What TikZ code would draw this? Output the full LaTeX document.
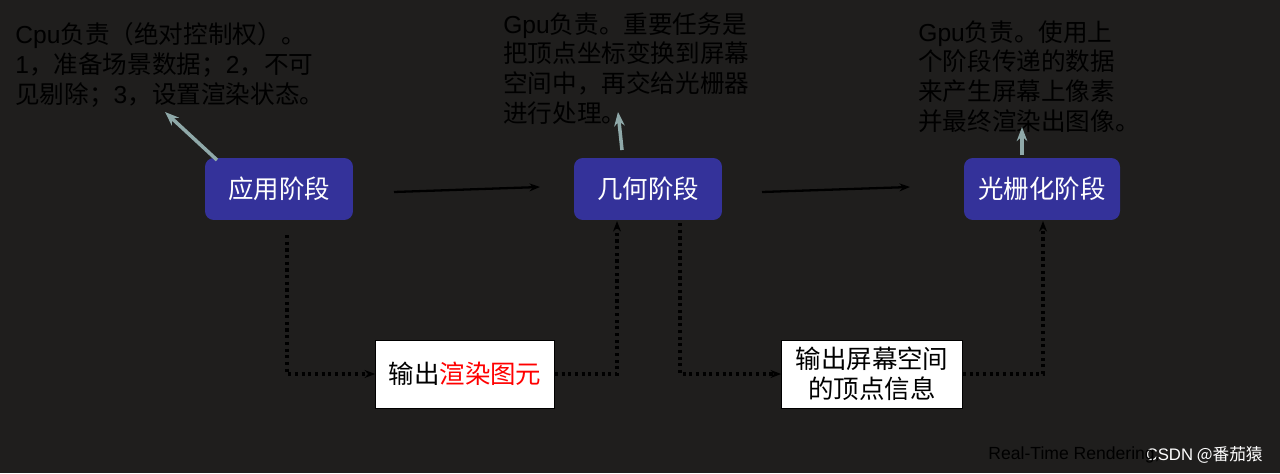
\documentclass[tikz,border=0pt]{standalone}
\usepackage{fontspec}
\setmainfont{Noto Sans CJK SC}
\newfontfamily\latn{Liberation Sans}
\usetikzlibrary{arrows.meta}
\definecolor{bg}{HTML}{1F1E1D}
\definecolor{boxc}{HTML}{34329A}
\definecolor{gar}{HTML}{8FA9A9}
\begin{document}
\begin{tikzpicture}[x=0.02cm,y=-0.02cm,
  stage/.style={fill=boxc,rounded corners=5pt,minimum width=2.96cm,minimum height=1.24cm,text=white,font=\fontsize{14.5pt}{17pt}\selectfont,inner sep=0pt},
  note/.style={anchor=north west,align=left,text=black,font=\fontsize{14pt}{17pt}\selectfont,inner sep=0pt},
  wbox/.style={fill=white,draw=black,minimum height=1.36cm,text=black,font=\fontsize{14.5pt}{17pt}\selectfont,inner sep=0pt},
  blk/.style={draw=black,line width=1.3pt,-{Stealth[length=6pt]}},
  dot/.style={draw=black,line width=1.8pt,dotted,-{Stealth[length=6pt]}},
  gray/.style={draw=gar,line width=2pt,-{Stealth[length=8pt,open]}}]
\useasboundingbox (0,0) rectangle (1280,473);
\fill[bg] (0,0) rectangle (1280,473);
\node[stage] (a) at (279,189) {应用阶段};
\node[stage] (b) at (648,189) {几何阶段};
\node[stage,minimum width=3.12cm] (c) at (1042,189) {光栅化阶段};
\node[wbox,minimum width=3.58cm] (o1) at (465,374) {输出\textcolor{red}{渲染图元}};
\node[wbox,minimum width=3.62cm,align=center] (o2) at (872,374) {输出屏幕空间\\的顶点信息};
\node[note] (t1) at (15,22) {{\latn Cpu}负责（绝对控制权）。\\{\latn 1}，准备场景数据；{\latn 2}，不可\\见剔除；{\latn 3}，设置渲染状态。};
\node[note] (t2) at (503,12) {{\latn Gpu}负责。重要任务是\\把顶点坐标变换到屏幕\\空间中，再交给光栅器\\进行处理。};
\node[note] (t3) at (918,20) {{\latn Gpu}负责。使用上\\个阶段传递的数据\\来产生屏幕上像素\\并最终渲染出图像。};
\coordinate (a1) at (394,192); \coordinate (a2) at (540,187);
\coordinate (b1) at (762,192); \coordinate (b2) at (910,187);
\draw[blk] (a1) -- (a2);
\draw[blk] (b1) -- (b2);
\draw[dot] (287,235) |- (o1.west);
\draw[dot] (o1.east) -| (617,221);
\draw[dot] (680,223) |- (o2.west);
\draw[dot] (o2.east) -| (1043,221);
\draw[gray] (217,160) -- (165,112);
\draw[gray] (622,150) -- (618,112);
\draw[gray] (1022,155) -- (1022,127);
\node[anchor=east,text=white,font=\fontsize{9.5pt}{11pt}\selectfont,inner sep=0pt] (cs) at (1263,455) {{\latn CSDN} @番茄猿};
\node[anchor=east,text=black,font=\latn\fontsize{10pt}{12pt}\selectfont,inner sep=0pt] (rt) at (1160,455) {Real-Time Rendering,};
\end{tikzpicture}
\end{document}
